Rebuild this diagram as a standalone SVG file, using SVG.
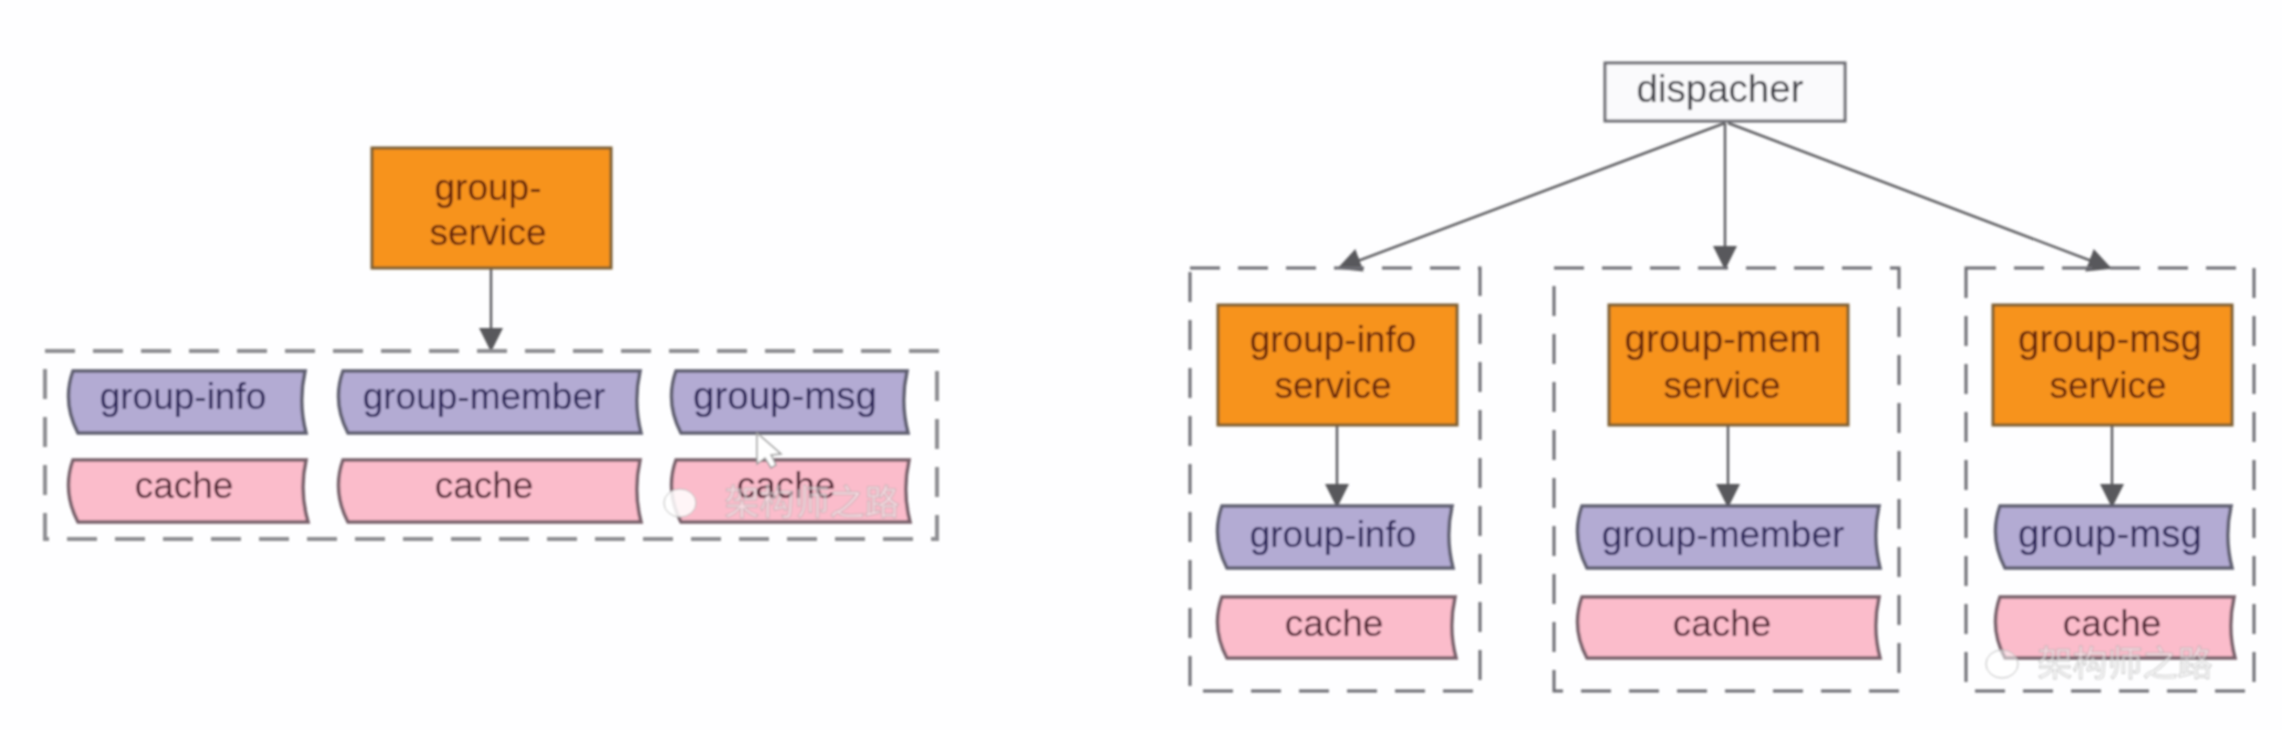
<svg xmlns="http://www.w3.org/2000/svg" width="2282" height="730" viewBox="0 0 2282 730">
<style>
text{font-family:"Liberation Sans",Arial,sans-serif;font-size:37px;text-anchor:middle}
text.w{font-size:38.5px}
.svc{fill:#f7931e;stroke:#7d5f33;stroke-width:3}
.svc-t{fill:#65230f}
.blue{fill:#b3abd3;stroke:#5f5f70;stroke-width:3.5}
.blue-t{fill:#2a2458}
.pink{fill:#fbbccb;stroke:#77606a;stroke-width:3.5}
.pink-t{fill:#4f2030}
.dash{fill:none;stroke:#8e8e92;stroke-width:4;stroke-dasharray:30 18}
.dashr{fill:none;stroke:#6c6c72;stroke-width:3;stroke-dasharray:30 18}
.line{fill:none;stroke:#5e5e62;stroke-width:2.5}
.head{fill:#58585c}
.mark{fill:#fff;fill-opacity:.5;stroke:#9a9a9a;stroke-opacity:.55;stroke-width:1;font-family:"Noto Sans CJK SC",sans-serif;font-size:35px}
</style>
<defs>
<marker id="arrow" markerUnits="userSpaceOnUse" markerWidth="24" markerHeight="28" refX="22" refY="12" orient="auto"><path class="head" d="M0,0 L24,12 L0,24 Z"/></marker>
<filter id="soft" x="-2%" y="-2%" width="104%" height="104%"><feGaussianBlur stdDeviation="1"/></filter>
</defs>
<rect width="2282" height="730" fill="#fefeff"/>
<g filter="url(#soft)">
<g id="connectors">
<line class="line" x1="491" y1="268" x2="491" y2="350" marker-end="url(#arrow)"/>
<line class="line" x1="1725" y1="123" x2="1339" y2="268" marker-end="url(#arrow)"/>
<line class="line" x1="1725" y1="123" x2="1725" y2="268" marker-end="url(#arrow)"/>
<line class="line" x1="1728" y1="123" x2="2110" y2="268" marker-end="url(#arrow)"/>
<line class="line" x1="1337" y1="425" x2="1337" y2="506" marker-end="url(#arrow)"/>
<line class="line" x1="1728" y1="425" x2="1728" y2="506" marker-end="url(#arrow)"/>
<line class="line" x1="2112" y1="425" x2="2112" y2="506" marker-end="url(#arrow)"/>
</g>
<g id="group-left">
<rect class="dash" x="45" y="351" width="892" height="188"/>
</g>
<g id="group-info-box"><rect class="dashr" x="1190" y="268" width="290" height="423"/></g>
<g id="group-mem-box"><rect class="dashr" x="1554" y="268" width="345" height="423"/></g>
<g id="group-msg-box"><rect class="dashr" x="1966" y="268" width="288" height="423"/></g>
<g id="group-service"><rect class="svc" x="372" y="148" width="239" height="120"/><text class="svc-t" x="488" y="200">group-</text><text class="svc-t" x="488" y="245">service</text></g>
<g id="l-info"><path class="blue" d="M73,371 H305 Q298,402 306,433 H78 Q62,402 73,371 Z"/><text class="blue-t" x="183" y="409">group-info</text></g>
<g id="l-member"><path class="blue" d="M343,371 H640 Q633,402 641,433 H348 Q332,402 343,371 Z"/><text class="blue-t" x="484" y="409">group-member</text></g>
<g id="l-msg"><path class="blue" d="M676,371 H907 Q900,402 908,433 H681 Q665,402 676,371 Z"/><text class="blue-t w" x="785" y="409">group-msg</text></g>
<g id="l-cache1"><path class="pink" d="M73,460 H306 Q299,491 308,522 H78 Q62,491 73,460 Z"/><text class="pink-t" x="184" y="498">cache</text></g>
<g id="l-cache2"><path class="pink" d="M343,460 H640 Q633,491 641,522 H348 Q332,491 343,460 Z"/><text class="pink-t" x="484" y="498">cache</text></g>
<g id="l-cache3"><path class="pink" d="M676,460 H909 Q902,491 910,522 H681 Q665,491 676,460 Z"/><text class="pink-t" x="786" y="498">cache</text></g>
<g id="dispacher"><rect x="1605" y="63" width="240" height="58" fill="#fafafc" stroke="#6c6c72" stroke-width="3"/><text class="w" x="1720" y="102" fill="#3c3c44">dispacher</text></g>
<g id="info-service"><rect class="svc" x="1218" y="305" width="239" height="120"/><text class="svc-t" x="1333" y="352">group-info</text><text class="svc-t" x="1333" y="398">service</text></g>
<g id="mem-service"><rect class="svc" x="1609" y="305" width="239" height="120"/><text class="svc-t w" x="1723" y="352">group-mem</text><text class="svc-t" x="1722" y="398">service</text></g>
<g id="msg-service"><rect class="svc" x="1993" y="305" width="239" height="120"/><text class="svc-t w" x="2110" y="352">group-msg</text><text class="svc-t" x="2108" y="398">service</text></g>
<g id="r-info"><path class="blue" d="M1222,506 H1452 Q1445,537 1453,568 H1227 Q1211,537 1222,506 Z"/><text class="blue-t" x="1333" y="547">group-info</text></g>
<g id="r-member"><path class="blue" d="M1582,506 H1879 Q1872,537 1880,568 H1587 Q1571,537 1582,506 Z"/><text class="blue-t" x="1723" y="547">group-member</text></g>
<g id="r-msg"><path class="blue" d="M2000,506 H2231 Q2224,537 2232,568 H2005 Q1989,537 2000,506 Z"/><text class="blue-t w" x="2110" y="547">group-msg</text></g>
<g id="r-cache1"><path class="pink" d="M1222,597 H1455 Q1448,628 1456,658 H1227 Q1211,628 1222,597 Z"/><text class="pink-t" x="1334" y="636">cache</text></g>
<g id="r-cache2"><path class="pink" d="M1582,597 H1879 Q1872,628 1880,658 H1587 Q1571,628 1582,597 Z"/><text class="pink-t" x="1722" y="636">cache</text></g>
<g id="r-cache3"><path class="pink" d="M2000,597 H2234 Q2227,628 2235,658 H2005 Q1989,628 2000,597 Z"/><text class="pink-t" x="2112" y="636">cache</text></g>
<path id="cursor" d="M757,433 L757,464 L765,458 L771,468 L776,465 L771,455 L781,454 Z" fill="#fff" stroke="#9a9a9a" stroke-width="1.5"/>
<g id="watermark-left"><ellipse cx="680" cy="503" rx="16" ry="14" fill="#fff" fill-opacity=".85" stroke="#bbb"/><text class="mark" x="812" y="515">架构师之路</text></g>
<g id="watermark-right"><ellipse cx="2002" cy="664" rx="16" ry="14" fill="#fff" fill-opacity=".5" stroke="#bbb"/><text class="mark" x="2125" y="676">架构师之路</text></g>
</g>
</svg>
